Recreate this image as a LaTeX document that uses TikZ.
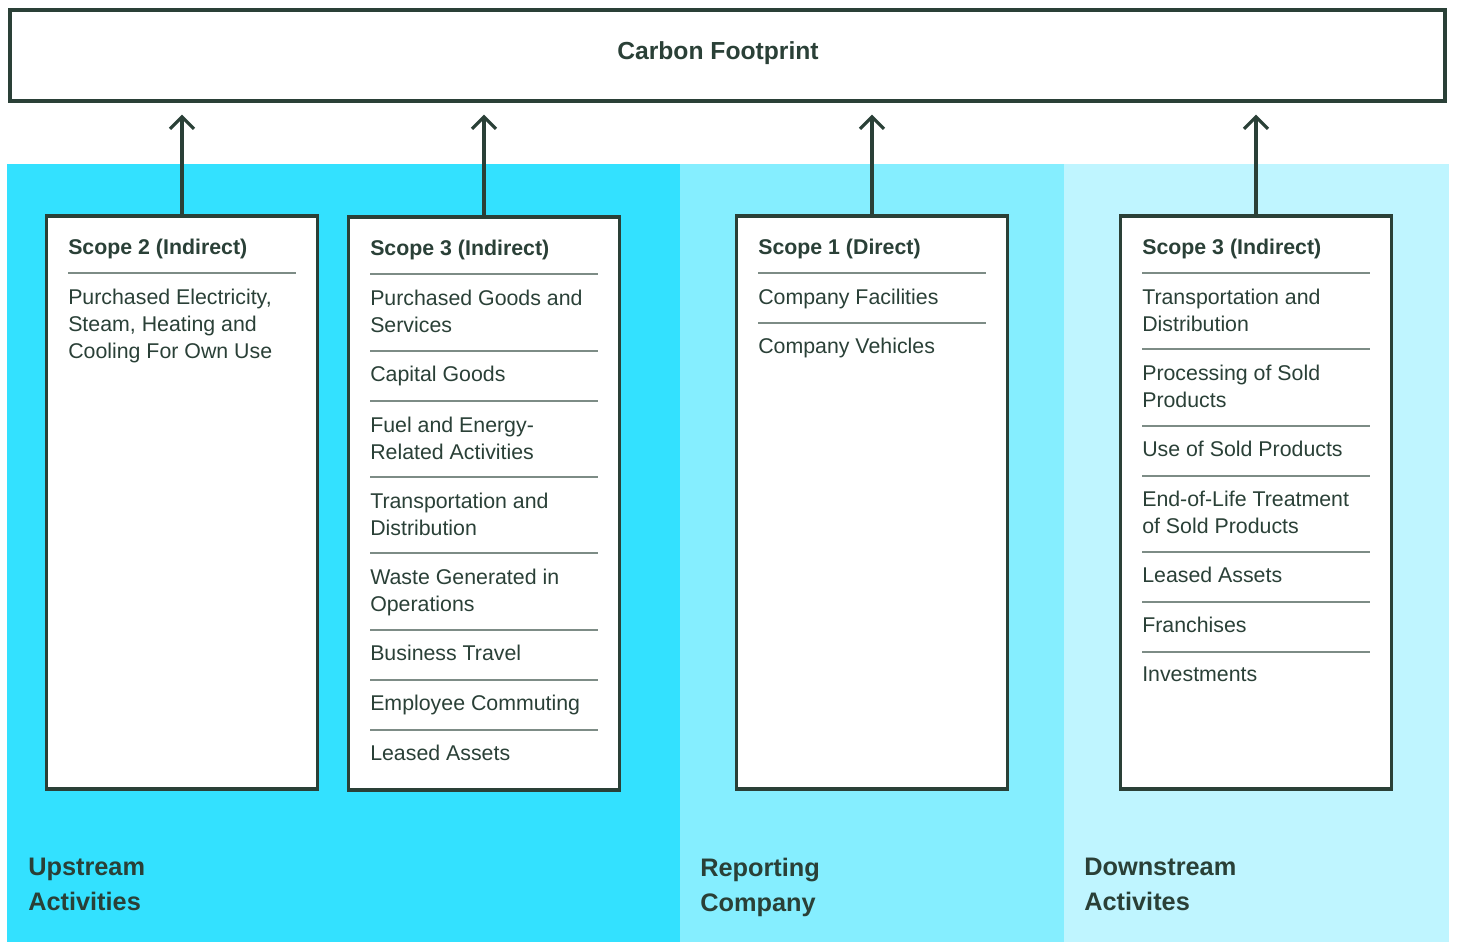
\documentclass[tikz,border=0pt]{standalone}
\usepackage{fontspec}
\setmainfont{Liberation Sans}
\usetikzlibrary{arrows.meta}
\definecolor{ink}{HTML}{2A4037}
\definecolor{rulegray}{HTML}{7D8C86}
\definecolor{upcyan}{HTML}{33E1FF}
\definecolor{midcyan}{HTML}{85EEFF}
\definecolor{downcyan}{HTML}{BFF5FF}
\tikzset{
  scopebox/.style={draw=ink, line width=2.4pt, fill=white, minimum width=203pt, minimum height=429.75pt, inner sep=0},
  head/.style={anchor=base west, inner sep=0, text=ink, font=\fontsize{16}{20}\selectfont\bfseries},
  item/.style={anchor=north west, inner sep=0, text=ink, align=left, font=\fontsize{16}{20}\selectfont},
  divider/.style={draw=rulegray, line width=1.1pt},
  flow/.style={draw=ink, line width=2.3pt, -{Straight Barb[length=9pt,width=18pt]}, shorten >=9pt},
  area/.style={anchor=north west, inner sep=0, text=ink, align=left, font=\fontsize{19}{26}\selectfont\bfseries},
}
\begin{document}
\begin{tikzpicture}[x=0.75pt,y=-0.75pt]
\useasboundingbox (0,0) rectangle (1457,942);
% three value-chain bands
\fill[upcyan] (7,164) rectangle (680,942);
\fill[midcyan] (680,164) rectangle (1064,942);
\fill[downcyan] (1064,164) rectangle (1449,942);
\node[area] (up) at (28,858) {Upstream\\Activities};
\node[area] (rep) at (700,858) {Reporting\\Company};
\node[area] (down) at (1084,858) {Downstream\\Activites};
% footprint box on top
\node[draw=ink, line width=2.6pt, minimum width=1076.25pt, minimum height=68.25pt, inner sep=0] (fp) at (727.5,55.5) {};
\node[text=ink, font=\fontsize{18.5}{22}\selectfont\bfseries] (fptitle) at (718,53.5) {Carbon Footprint};
% scope 2, upstream
\begin{scope}[xshift=34.5pt]
\node[scopebox] (s2) at (136,502.5) {};
\node[head] (s2h) at (22,254) {Scope 2 (Indirect)};
\draw[divider] (22,273) -- (250,273);
\node[item] (s2a) at (22,289) {Purchased Electricity,\\Steam, Heating and\\Cooling For Own Use};
\end{scope}
% scope 3, upstream
\begin{scope}[xshift=261pt]
\node[scopebox] (s3u) at (136,503.5) {};
\node[head] (s3uh) at (22,255) {Scope 3 (Indirect)};
\foreach \y in {274,351,401,477,553,630,680,730}
  \draw[divider] (22,\y) -- (250,\y);
\foreach \y/\txt [count=\i] in {290/{Purchased Goods and\\Services}, 366/{Capital Goods},
    417/{Fuel and Energy-\\Related Activities}, 493/{Transportation and\\Distribution},
    569/{Waste Generated in\\Operations}, 645/{Business Travel},
    695/{Employee Commuting}, 745/{Leased Assets}}
  \node[item] (s3u-\i) at (22,\y) {\txt};
\end{scope}
% scope 1, reporting company
\begin{scope}[xshift=552pt]
\node[scopebox] (s1) at (136,502.5) {};
\node[head] (s1h) at (22,254) {Scope 1 (Direct)};
\draw[divider] (22,273) -- (250,273);
\draw[divider] (22,323) -- (250,323);
\node[item] (s1a) at (22,289) {Company Facilities};
\node[item] (s1b) at (22,338) {Company Vehicles};
\end{scope}
% scope 3, downstream
\begin{scope}[xshift=840pt]
\node[scopebox] (s3d) at (136,502.5) {};
\node[head] (s3dh) at (22,254) {Scope 3 (Indirect)};
\foreach \y in {273,349,426,476,552,602,652}
  \draw[divider] (22,\y) -- (250,\y);
\foreach \y/\txt [count=\i] in {289/{Transportation and\\Distribution}, 365/{Processing of Sold\\Products},
    441/{Use of Sold Products}, 491/{End-of-Life Treatment\\of Sold Products},
    567/{Leased Assets}, 617/{Franchises}, 667/{Investments}}
  \node[item] (s3d-\i) at (22,\y) {\txt};
\end{scope}
% arrows up to the footprint
\draw[flow] (s2.north) -- (s2.north |- fp.south);
\draw[flow] (s3u.north) -- (s3u.north |- fp.south);
\draw[flow] (s1.north) -- (s1.north |- fp.south);
\draw[flow] (s3d.north) -- (s3d.north |- fp.south);
\end{tikzpicture}
\end{document}
